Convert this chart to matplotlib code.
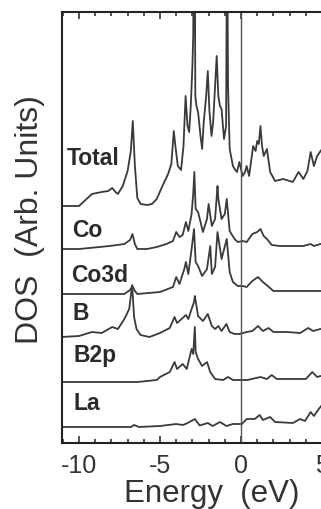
import matplotlib
matplotlib.use("Agg")
import matplotlib.pyplot as plt
from matplotlib.ticker import MultipleLocator

plt.rcParams["font.family"] = ["Liberation Sans", "DejaVu Sans"]

# energies (eV) and DOS, each curve above its own baseline
e_total = [-11.1, -10.0, -9.6, -9.2, -8.6, -8.2, -7.95, -7.75, -7.6, -7.3, -7.0, -6.8, -6.68, -6.55, -6.4,
           -6.2, -5.8, -5.5, -5.2, -4.85, -4.5, -4.3, -4.15, -4.05, -3.9, -3.7, -3.55, -3.42, -3.3, -3.2,
           -3.1, -3.0, -2.95, -2.9, -2.86, -2.82, -2.75, -2.65, -2.5, -2.4, -2.3, -2.15, -2.05, -1.95,
           -1.82, -1.72, -1.6, -1.5, -1.4, -1.3, -1.2, -1.05, -0.92, -0.86, -0.8, -0.7, -0.5, -0.35,
           -0.25, -0.1, 0.1, 0.25, 0.35, 0.5, 0.75, 0.9, 1.0, 1.1, 1.2, 1.3, 1.4, 1.6, 1.8, 2.1, 2.6,
           3.0, 3.2, 3.55, 3.85, 4.1, 4.3, 4.5, 4.7, 5.0, 5.5, 6.0, 6.5]
dos_total = [0, 0, 6, 12, 14, 15, 18, 14, 12, 20, 35, 55, 85, 40, 8,
             2, 1, 2, 7, 20, 32, 42, 75, 60, 40, 36, 60, 110, 80, 74,
             100, 140, 170, 300, 300, 110, 100, 94, 70, 57, 84, 110, 135, 95,
             70, 84, 120, 150, 110, 100, 97, 67, 80, 300, 120, 57, 40, 36,
             34, 44, 30, 34, 40, 30, 60, 55, 65, 62, 80, 60, 50, 57, 34, 25, 27,
             25, 24, 34, 27, 35, 54, 40, 50, 57, 50, 45, 45]

e_co = [-11.1, -10.0, -8.1, -7.2, -6.85, -6.7, -6.55, -6.4, -5.8, -5.2, -4.6, -4.2, -4.0, -3.8, -3.6,
        -3.4, -3.25, -3.05, -2.95, -2.88, -2.8, -2.65, -2.35, -2.1, -2.0, -1.8, -1.6, -1.45, -1.4,
        -1.2, -1.0, -0.88, -0.7, -0.4, -0.2, 0.1, 0.35, 0.7, 1.0, 1.2, 1.4, 1.6, 1.9, 2.4, 3.85,
        4.3, 4.5, 4.9, 5.5, 6.5]
dos_co = [0, 0, 3, 5, 9, 15, 5, 0, 0, 2, 5, 8, 17, 12, 14,
          27, 18, 35, 55, 77, 40, 37, 17, 30, 45, 23, 30, 63, 50,
          30, 35, 50, 18, 10, 7, 8, 7, 15, 17, 20, 13, 10, 4, 3, 3,
          5, 3, 5, 4, 4]

e_co3d = [-11.1, -7.2, -6.85, -6.7, -6.55, -6.4, -5.0, -4.2, -4.0, -3.8, -3.5, -3.4, -3.25, -3.05,
          -2.9, -2.8, -2.65, -2.4, -2.1, -1.9, -1.8, -1.6, -1.45, -1.2, -0.88, -0.7, -0.5, -0.2,
          0.1, 0.35, 0.7, 1.05, 1.35, 1.65, 2.0, 6.5]
dos_co3d = [0, 0, 4, 8, 3, 0, 2, 7, 17, 10, 25, 32, 20, 45,
            65, 32, 28, 18, 25, 48, 20, 27, 62, 35, 55, 22, 12, 8,
            8, 7, 13, 17, 12, 8, 3, 3]

e_b = [-11.1, -10.0, -9.2, -8.6, -7.95, -7.6, -7.2, -6.9, -6.72, -6.6, -6.45, -6.2, -5.65, -5.0,
       -4.4, -4.1, -3.95, -3.6, -3.4, -3.25, -3.05, -2.9, -2.85, -2.65, -2.35, -2.05, -1.8, -1.6,
       -1.4, -1.2, -0.9, -0.7, -0.4, -0.1, 0.35, 0.7, 1.05, 1.35, 1.7, 2.0, 2.85, 3.65, 4.15,
       4.45, 4.9, 5.5, 6.5]
dos_b = [0, 1, 5, 4, 10, 8, 18, 28, 52, 20, 8, 2, 0, 4,
         9, 20, 14, 19, 22, 18, 28, 35, 41, 21, 16, 23, 11, 8,
         11, 6, 13, 5, 3, 3, 5, 6, 11, 6, 9, 5, 5, 4, 9,
         6, 8, 7, 7]

e_b2p = [-11.1, -6.4, -5.2, -5.0, -4.4, -4.1, -3.95, -3.6, -3.35, -3.05, -2.95, -2.85, -2.8, -2.65,
         -2.4, -2.1, -1.9, -1.6, -1.1, -0.8, -0.5, 0.4, 1.2, 1.6, 1.9, 2.2, 4.0, 4.4, 4.7, 4.9,
         5.5, 6.5]
dos_b2p = [0, 0, 2, 5, 10, 20, 13, 18, 13, 33, 28, 55, 30, 23,
           16, 20, 10, 3, 2, 5, 2, 2, 5, 3, 7, 3, 3, 10, 5, 6,
           5, 5]

e_la = [-11.1, -6.8, -6.6, -6.3, -5.0, -4.0, -3.6, -3.35, -2.85, -2.55, -2.05, -1.75, -1.3, -0.9,
        -0.5, 0.05, 0.35, 0.85, 1.15, 1.35, 1.8, 2.1, 3.2, 3.65, 3.95, 4.3, 4.5, 4.8, 5.0, 5.5, 6.5]
dos_la = [0, 0, 2, 0, 1, 3, 2, 3.5, 8, 1.5, 4, 1, 5, 1,
          3, 3, 8, 8, 12, 7, 10, 5, 4, 8, 6, 15, 11, 18, 22, 26, 30]

names = ["Total", "Co", "Co3d", "B", "B2p", "La"]
offsets = [237, 194, 149, 106, 61, 16]
label_x = [-10.74, -10.43, -10.49, -10.43, -10.37, -10.37]
label_y = [279, 207, 162, 124, 82, 34]

curves = [(e_total, dos_total), (e_co, dos_co), (e_co3d, dos_co3d),
          (e_b, dos_b), (e_b2p, dos_b2p), (e_la, dos_la)]

W, H = 321, 510
fig = plt.figure(figsize=(W / 100, H / 100), dpi=100)
# axes runs off the right edge like in the cropped original
ax = fig.add_axes([62 / W, 66 / H, 284.3 / W, 431 / H])

for (e, d), off in zip(curves, offsets):
    ax.plot(e, [v + off for v in d], color="#3a3a3a", lw=1.3)

for name, x, y in zip(names, label_x, label_y):
    ax.text(x, y, name, fontsize=16.5, fontweight="bold", color="#2a2a2a", va="baseline")

ax.axvline(0, color="#555555", lw=1.0)

ax.set_xlim(-11.05, 6.5)
ax.set_ylim(0, 431)
ax.xaxis.set_major_locator(MultipleLocator(5))
ax.xaxis.set_minor_locator(MultipleLocator(1))
ax.set_yticks([])
ax.tick_params(axis="x", which="both", direction="in", top=True, bottom=True,
               width=1.1, colors="#222222", labelcolor="#333333")
ax.tick_params(axis="x", which="major", length=5, labelsize=18, pad=7)
ax.tick_params(axis="x", which="minor", length=3)
ax.set_xticks([-10, -5, 0, 5])
ax.set_xticklabels(["-10", "-5", "0", "5"])
for s in ax.spines.values():
    s.set_linewidth(1.5)
    s.set_color("#222222")

fig.text(212 / W, 1 - 502 / H, "Energy  (eV)", fontsize=22.5, ha="center", va="baseline", color="#333333")
fig.text(30 / W, 1 - 220 / H, "DOS  (Arb. Units)", fontsize=23, rotation=90,
         ha="center", va="center", color="#333333")

fig.savefig("out.png", dpi=100)
